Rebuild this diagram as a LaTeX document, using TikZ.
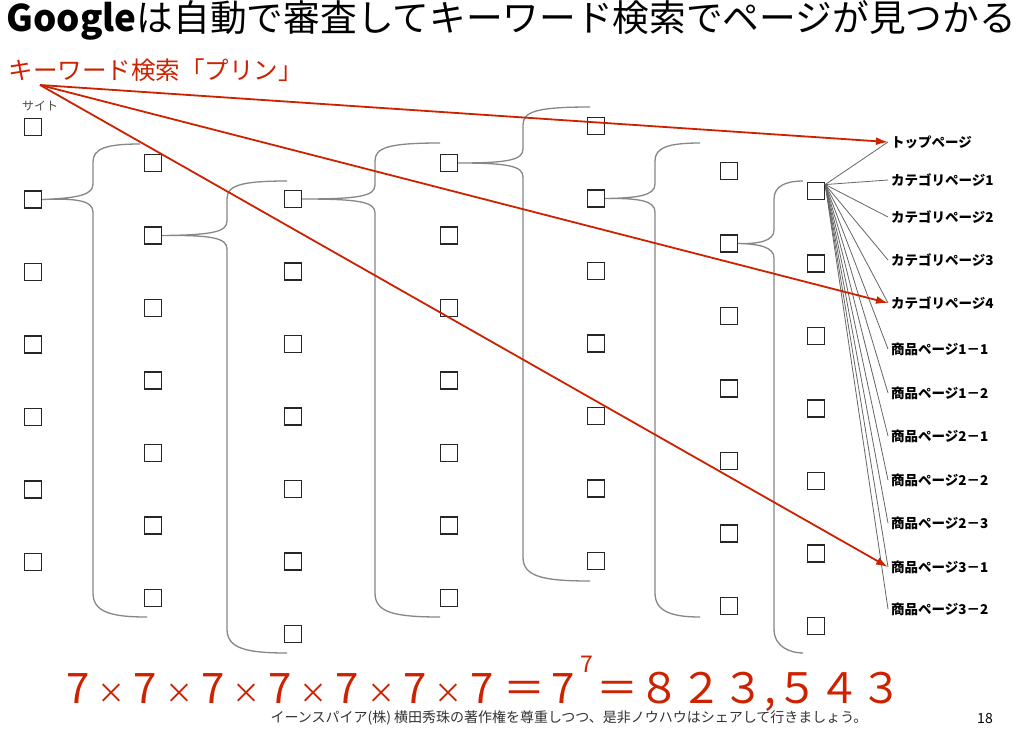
\documentclass[tikz,border=0pt]{standalone}
\usepackage{fontspec}
\setmainfont{Noto Sans CJK JP}
\usetikzlibrary{arrows.meta,calc}
\definecolor{kwred}{RGB}{204,34,0}
\definecolor{bracegray}{RGB}{135,135,135}
\newcommand\timesmark{\makebox[44pt]{\fontsize{28}{28}\selectfont ×}}
\newcommand\powmark[1]{\hspace{5pt}\raisebox{31pt}{\fontsize{23}{23}\selectfont #1}\hspace{4pt}}
\tikzset{
  page/.style={draw=black!85,line width=1.4pt,minimum size=17pt,inner sep=0pt},
  brace/.style={draw=bracegray,line width=1.3pt},
  link/.style={draw=black!60,line width=0.8pt},
  hit/.style={draw=kwred,line width=1.8pt,-{Latex[length=12pt,width=8pt]}},
  pagelabel/.style={anchor=west,inner xsep=3pt,font=\bfseries\fontsize{13.5}{15}\selectfont}
}

\begin{document}
\begin{tikzpicture}[x=1pt,y=-1pt]
\useasboundingbox[fill=white] (0,0) rectangle (1024,731);

%some labels
\node[anchor=west,font=\fontsize{36.7}{40}\selectfont] (title) at (3,20)
  {\textbf{Google}は自動で審査してキーワード検索でページが見つかる};
\node[anchor=west,text=kwred,font=\fontsize{24.5}{27}\selectfont] (kwtext) at (5,70) {キーワード検索「プリン」};
\node[text=black!70,font=\fontsize{12}{14}\selectfont] (site) at (40,106) {サイト};

%pages, 7 per level
\foreach \c/\x/\y in {1/33/127,2/153/163,3/293/199,4/449/163,5/596/126,6/729/171,7/816/191}
  \foreach \r in {1,...,7}
    \node[page] (s\c\r) at (\x,{\y+(\r-1)*72.5}) {};

%braces
\foreach \t/\ty/\v/\ax/\ay/\bx/\by in {s12/198/93/140/144/147/617,s22/235/227/287/181/287/653,
  s31/199/375/440/143/440/617,s41/163/523/590/107/590/581,s52/198/655/700/143/700/617,s62/244/774/803/181/803/653}
  \draw[brace] (\ax,\ay) .. controls ({\v+12},\ay) and (\v,{\ay+5}) .. (\v,{\ay+18}) -- (\v,{\ty-14})
    .. controls (\v,{\ty-3}) and ({\v-15},\ty) .. (\t.east)
    .. controls ({\v-15},\ty) and (\v,{\ty+3}) .. (\v,{\ty+14}) -- (\v,{\by-24})
    .. controls (\v,{\by-5}) and ({\v+18},\by) .. (\bx,\by);

%result pages
\node[pagelabel] (top) at (888,142) {トップページ};
\node[pagelabel] (cat1) at (888,180) {カテゴリページ1};
\node[pagelabel] (cat2) at (888,217) {カテゴリページ2};
\node[pagelabel] (cat3) at (888,260) {カテゴリページ3};
\node[pagelabel] (cat4) at (888,303) {カテゴリページ4};
\node[pagelabel] (item11) at (888,349) {商品ページ1－1};
\node[pagelabel] (item12) at (888,393) {商品ページ1－2};
\node[pagelabel] (item21) at (888,436) {商品ページ2－1};
\node[pagelabel] (item22) at (888,480) {商品ページ2－2};
\node[pagelabel] (item23) at (888,523) {商品ページ2－3};
\node[pagelabel] (item31) at (888,567) {商品ページ3－1};
\node[pagelabel] (item32) at (888,609) {商品ページ3－2};

%some lines
\foreach \l in {top,cat1,cat2,cat3,cat4,item11,item12,item21,item22,item23,item31,item32}
  \draw[link] (s71.35) -- (\l.west);

%keyword hits
\coordinate (kw) at (40,85);
\draw[hit] (kw) -- (top.west);
\draw[hit] (kw) -- (cat4.west);
\draw[hit] (kw) -- (item31.west);

%count and footer
\node[anchor=west,text=kwred,font=\fontsize{42}{48}\selectfont] (count) at (63,684)
  {7\timesmark 7\timesmark 7\timesmark 7\timesmark 7\timesmark 7\timesmark 7\hspace{10pt}＝\hspace{6pt}7\powmark{7}＝８２３,５４３};
\node[text=black!80,font=\fontsize{14}{16}\selectfont] (note) at (569,718)
  {イーンスパイア(株) 横田秀珠の著作権を尊重しつつ、是非ノウハウはシェアして行きましょう。};
\node[font=\fontsize{14}{16}\selectfont] (pageno) at (985,718) {18};
\end{tikzpicture}
\end{document}
